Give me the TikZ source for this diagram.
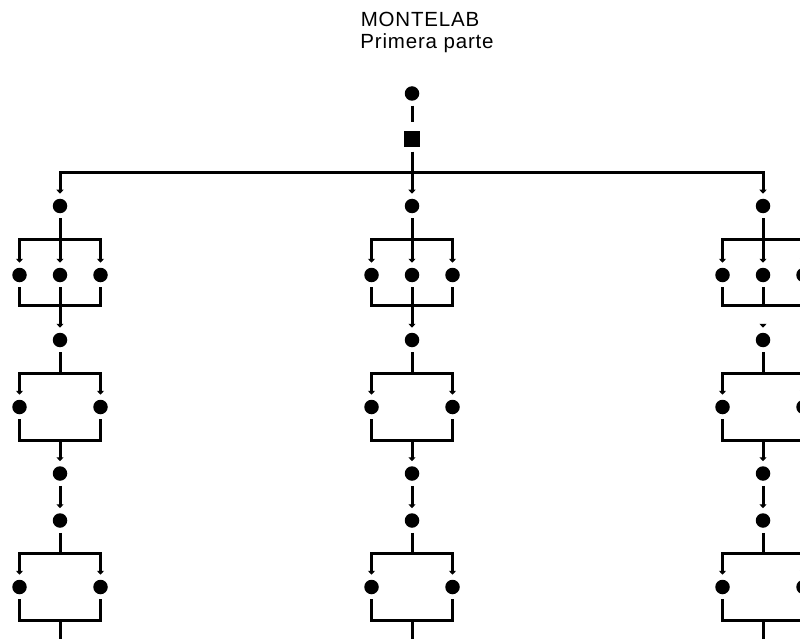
\documentclass[tikz,border=0pt]{standalone}
\usepackage{fontspec}
\setmainfont{Liberation Sans}
\newfontfamily\headfont[LetterSpace=4]{Liberation Sans}
\usetikzlibrary{arrows.meta}
\begin{document}
\begin{tikzpicture}[x=1pt,y=-1pt,
  dot/.style={circle,fill=black,inner sep=0pt,minimum size=14.5pt,outer sep=5pt},
  sqr/.style={rectangle,fill=black,inner sep=0pt,minimum size=15.5pt,outer sep=5pt},
  wire/.style={line width=3pt},
  arr/.style={wire,-{Triangle[length=4pt,width=7pt]}},
  tiponly/.style={arr,shorten <=18pt},
  head/.style={font=\headfont\fontsize{20.5}{23}\selectfont,anchor=base,inner sep=0pt}]
\useasboundingbox (0,0) rectangle (800,639);
\clip (0,0) rectangle (800,639);

% title
\node[head] (t1) at (420,26.7) {MONTELAB};
\node[head] (t2) at (427,48.3) {Primera parte};

% root and distribution bus
\node[dot] (top) at (412,93.5) {};
\node[sqr] (sq) at (412,139) {};
\coordinate (bus) at (412,172.5);

% one chain per column
\foreach \c/\x/\s in {L/60/arr, M/412/arr, R/763/tiponly}{
  \node[dot] (\c1) at (\x,206) {};
  \coordinate (\c f1) at (\x,239);
  \node[dot] (\c2a) at (\x-40.5,275) {};
  \node[dot] (\c2b) at (\x,275) {};
  \node[dot] (\c2c) at (\x+40.5,275) {};
  \coordinate (\c j1) at (\x,305.5);
  \node[dot] (\c3) at (\x,340) {};
  \coordinate (\c f2) at (\x,373);
  \node[dot] (\c4a) at (\x-40.5,407) {};
  \node[dot] (\c4b) at (\x+40.5,407) {};
  \coordinate (\c j2) at (\x,440);
  \node[dot] (\c5) at (\x,473.5) {};
  \node[dot] (\c6) at (\x,520.5) {};
  \coordinate (\c f3) at (\x,553);
  \node[dot] (\c7a) at (\x-40.5,587) {};
  \node[dot] (\c7b) at (\x+40.5,587) {};
  \coordinate (\c j3) at (\x,620);
  \coordinate (\c end) at (\x,650);

  % triple branch
  \draw[wire] (\c1) -- (\c f1);
  \draw[arr] (\c f1) -| (\c2a);
  \draw[arr] (\c f1) -- (\c2b);
  \draw[arr] (\c f1) -| (\c2c);
  \draw[wire] (\c2a) |- (\c j1);
  \draw[wire] (\c2b) -- (\c j1);
  \draw[wire] (\c2c) |- (\c j1);
  \draw[\s] (\c j1) -- (\c3);

  % first double branch
  \draw[wire] (\c3) -- (\c f2);
  \draw[arr] (\c f2) -| (\c4a);
  \draw[arr] (\c f2) -| (\c4b);
  \draw[wire] (\c4a) |- (\c j2);
  \draw[wire] (\c4b) |- (\c j2);
  \draw[arr] (\c j2) -- (\c5);
  \draw[arr] (\c5) -- (\c6);

  % second double branch
  \draw[wire] (\c6) -- (\c f3);
  \draw[arr] (\c f3) -| (\c7a);
  \draw[arr] (\c f3) -| (\c7b);
  \draw[wire] (\c7a) |- (\c j3);
  \draw[wire] (\c7b) |- (\c j3);
  \draw[wire] (\c j3) -- (\c end);
}

% root connections
\draw[wire, shorten >=4pt] (top) -- (sq);
\draw[wire] (sq) -- (bus);
\draw[arr] (bus) -- (M1);
\draw[arr] (bus) -| (L1);
\draw[arr] (bus) -| (R1);
\end{tikzpicture}
\end{document}
